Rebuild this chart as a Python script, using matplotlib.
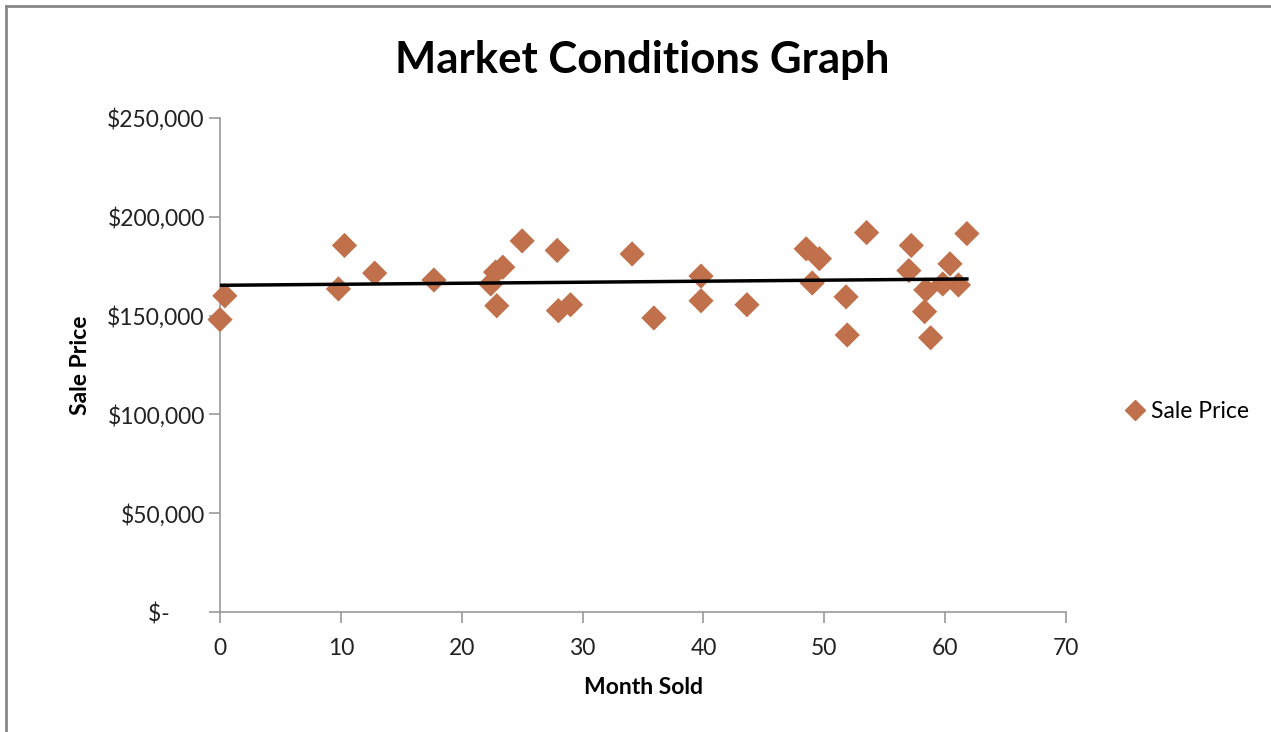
import numpy as np
import matplotlib
matplotlib.use("Agg")
import matplotlib.pyplot as plt
from matplotlib.ticker import FuncFormatter
from matplotlib.lines import Line2D

plt.rcParams['font.family'] = ['Lato', 'DejaVu Sans']

month_sold = [0.0, 0.4, 9.8, 10.3, 12.8, 17.7, 22.4, 22.8, 23.4, 22.9, 25.0, 27.9, 28.0, 29.0,
              34.1, 35.9, 39.8, 39.8, 43.6, 48.5, 49.6, 49.0, 51.8, 51.9, 53.5, 57.2, 57.0,
              58.4, 58.3, 58.8, 59.8, 60.4, 61.1, 61.8]
sale_price = [148000, 160000, 163500, 185500, 171500, 168000, 166000, 172000, 174500, 155000,
              187800, 183000, 152500, 155500, 181200, 148800, 170000, 157500, 155500, 183800,
              178800, 166500, 159500, 140200, 192000, 185500, 172800, 163000, 152000, 138800,
              166000, 176200, 165500, 191500]

x_ticks = [0, 10, 20, 30, 40, 50, 60, 70]
y_ticks = [0, 50000, 100000, 150000, 200000, 250000]

W, H = 1271, 732
fig = plt.figure(figsize=(W / 100, H / 100), dpi=100)
ax = fig.add_axes([220 / W, (H - 612) / H, (1066 - 220) / W, (612 - 118) / H])

marker_color = '#C0704A'
ax.scatter(month_sold, sale_price, marker='D', s=165, color=marker_color,
           edgecolors='none', zorder=3, clip_on=False)

# linear trendline
coef = np.polyfit(month_sold, sale_price, 1)
xs = np.array([min(month_sold), max(month_sold)])
ax.plot(xs, np.polyval(coef, xs), color='black', lw=2.5, zorder=4)

ax.set_xlim(0, 70)
ax.set_ylim(0, 250000)
ax.set_xticks(x_ticks)
ax.set_yticks(y_ticks)

def fmt(v, pos):
    if v == 0:
        return '$-      '
    return '${:,.0f}'.format(v)

ax.yaxis.set_major_formatter(FuncFormatter(fmt))

for s in ['top', 'right']:
    ax.spines[s].set_visible(False)
for s in ['left', 'bottom']:
    ax.spines[s].set_color('#9a9a9a')
    ax.spines[s].set_linewidth(1.2)
ax.tick_params(axis='both', colors='#9a9a9a', length=8, width=1.2, labelsize=16.5,
               labelcolor='#222222')
ax.tick_params(axis='x', pad=11)
ax.tick_params(axis='y', pad=3)

ax.set_xlabel('Month Sold', fontsize=16.5, fontweight='bold', labelpad=13)
ax.set_ylabel('Sale Price', fontsize=16.5, fontweight='bold', labelpad=12)

fig.text(642 / W, 1 - 60 / H, 'Market Conditions Graph', ha='center', va='center',
         fontsize=31.5, fontweight='bold')

# legend
handle = Line2D([], [], marker='D', color=marker_color, linestyle='none', markersize=10)
leg = fig.legend([handle], ['Sale Price'], loc='center left',
                 bbox_to_anchor=(1105 / W, 1 - 412 / H), frameon=False,
                 fontsize=16.5, handlelength=0.8, handletextpad=0.3)

# chart border
fig.add_artist(Line2D([6 / W, 1], [1 - 6 / H, 1 - 6 / H], color='#888888', lw=2))
fig.add_artist(Line2D([6 / W, 6 / W], [0, 1 - 6 / H], color='#888888', lw=2))

fig.savefig('out.png', dpi=100)
